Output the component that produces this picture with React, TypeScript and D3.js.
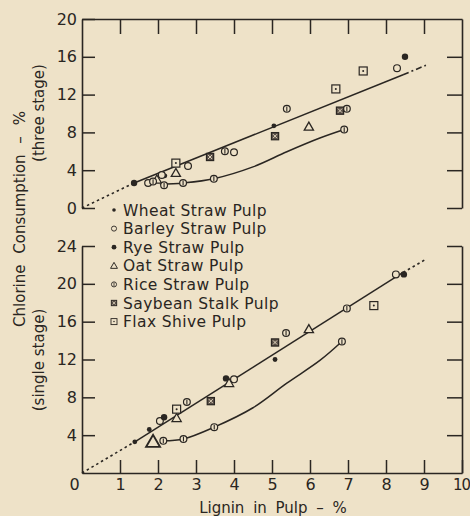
import { useEffect, useRef } from 'react'
import * as d3 from 'd3'

type Pt = [number, number]

// three stage panel (lignin %, chlorine %)
const threeWheat: Pt[] = [[2.18, 3.4], [5.05, 8.7]]
const threeBarley: Pt[] = [[1.74, 2.65], [2.1, 3.5], [2.79, 4.45], [4.0, 5.9], [8.29, 14.8]]
const threeRye: Pt[] = [[1.37, 2.65], [8.5, 16.0]]
const threeOat: Pt[] = [[1.97, 3.0], [2.47, 3.7], [5.97, 8.6]]
const threeRice: Pt[] = [[1.87, 2.8], [3.76, 6.0], [5.39, 10.5], [6.97, 10.5], [2.16, 2.4], [2.66, 2.65], [3.47, 3.1], [6.9, 8.3]]
const threeSoybean: Pt[] = [[3.37, 5.4], [5.08, 7.6], [6.79, 10.3]]
const threeFlax: Pt[] = [[2.47, 4.75], [6.68, 12.6], [7.4, 14.5]]
const threeFit: Pt[] = [[1.37, 2.65], [8.45, 14.1]]
const threeFitStart: Pt[] = [[0, 0], [1.37, 2.65]]
const threeFitEnd: Pt[] = [[8.45, 14.1], [9.05, 15.1]]
const threeLower: Pt[] = [[2.05, 2.5], [2.66, 2.65], [3.47, 3.1], [4.5, 4.35], [5.39, 5.95], [6.26, 7.4], [6.9, 8.3]]

// single stage panel
const singleWheat: Pt[] = [[1.39, 3.3], [1.77, 4.6], [5.08, 12.0]]
const singleBarley: Pt[] = [[2.05, 5.5], [4.0, 9.9], [8.26, 21.0]]
const singleRye: Pt[] = [[2.16, 5.9], [3.79, 10.0], [8.47, 21.0]]
const singleOat: Pt[] = [[1.87, 3.3], [2.49, 5.8], [3.87, 9.5], [5.97, 15.2]]
const singleRice: Pt[] = [[2.76, 7.5], [5.37, 14.8], [6.97, 17.4], [2.14, 3.4], [2.67, 3.6], [3.48, 4.85], [6.84, 13.9]]
const singleSoybean: Pt[] = [[3.39, 7.6], [5.08, 13.8]]
const singleFlax: Pt[] = [[2.49, 6.75], [7.68, 17.7]]
const singleFit: Pt[] = [[1.39, 3.3], [8.45, 21.2]]
const singleFitStart: Pt[] = [[0, 0], [1.39, 3.3]]
const singleFitEnd: Pt[] = [[8.45, 21.2], [9.05, 22.6]]
const singleLower: Pt[] = [[2.14, 3.4], [2.67, 3.6], [3.48, 4.85], [4.5, 6.9], [5.39, 9.5], [6.26, 11.9], [6.84, 13.9]]

const xTicks = [0, 1, 2, 3, 4, 5, 6, 7, 8, 9, 10]
const topTicks = [0, 4, 8, 12, 16, 20]
const bottomTicks = [4, 8, 12, 16, 20, 24]

const legendNames = [
  'Wheat Straw Pulp',
  'Barley Straw Pulp',
  'Rye Straw Pulp',
  'Oat Straw Pulp',
  'Rice Straw Pulp',
  'Saybean Stalk Pulp',
  'Flax Shive Pulp',
]
const kinds = ['wheat', 'barley', 'rye', 'oat', 'rice', 'soybean', 'flax']

const W = 470
const H = 516
const INK = '#2a2622'
const BG = '#eee2c8'
const FONT = '"DejaVu Sans", sans-serif'

type Sel = d3.Selection<SVGGElement, unknown, null, undefined>

function marker(g: Sel, kind: string, cx: number, cy: number, s = 1) {
  const m = g.append('g').attr('transform', `translate(${cx},${cy}) scale(${s})`)
  if (kind === 'wheat') {
    m.append('circle').attr('r', 2.4).attr('fill', INK)
  } else if (kind === 'rye') {
    m.append('circle').attr('r', 3.2).attr('fill', INK)
  } else if (kind === 'barley') {
    m.append('circle').attr('r', 3.4).attr('fill', BG).attr('stroke', INK).attr('stroke-width', 1.2)
  } else if (kind === 'rice') {
    m.append('circle').attr('r', 3.4).attr('fill', BG).attr('stroke', INK).attr('stroke-width', 1.2)
    m.append('line').attr('y1', -2.4).attr('y2', 2.4).attr('stroke', INK).attr('stroke-width', 1.1)
  } else if (kind === 'oat') {
    m.append('path').attr('d', 'M0,-4.6L4.6,3.4L-4.6,3.4Z').attr('fill', BG).attr('stroke', INK).attr('stroke-width', 1.3)
  } else if (kind === 'soybean') {
    m.append('rect').attr('x', -3.6).attr('y', -3.6).attr('width', 7.2).attr('height', 7.2)
      .attr('fill', '#5a5048').attr('stroke', INK).attr('stroke-width', 1.2)
    m.append('path').attr('d', 'M-2,-2L2,2M2,-2L-2,2').attr('stroke', BG).attr('stroke-width', 0.9)
  } else if (kind === 'flax') {
    m.append('rect').attr('x', -4).attr('y', -4).attr('width', 8).attr('height', 8)
      .attr('fill', BG).attr('stroke', INK).attr('stroke-width', 1.2)
    m.append('circle').attr('r', 1).attr('fill', INK)
  }
}

export default function App() {
  const ref = useRef<SVGSVGElement>(null)

  useEffect(() => {
    const svg = ref.current
    if (!svg) return
    const root = d3.select(svg)
    root.selectAll('*').remove()

    const x = d3.scaleLinear().domain([0, 10]).range([82, 462])
    const yTop = d3.scaleLinear().domain([0, 20]).range([208, 19])
    const yBot = d3.scaleLinear().domain([0, 24]).range([473, 246])

    const styleAxis = (sel: Sel) => {
      sel.select('.domain').attr('stroke', INK).attr('stroke-width', 1.6)
      sel.selectAll('line').attr('stroke', INK).attr('stroke-width', 1.5)
      sel.selectAll('text').attr('fill', INK).style('font-family', FONT).style('font-size', '16px')
    }

    const g = root.append('g') as Sel

    // top panel frame
    g.append('g').attr('transform', `translate(${x(0)},0)`)
      .call(d3.axisLeft(yTop).tickValues(topTicks).tickSize(-13).tickSizeOuter(0).tickPadding(5).tickFormat(d3.format('d')))
      .call(styleAxis)
    g.append('g').attr('transform', `translate(0,${yTop(20)})`)
      .call(d3.axisTop(x).tickValues([1, 2, 3, 4, 5, 6, 7, 8, 9]).tickSize(-15).tickSizeOuter(0).tickFormat(() => ''))
      .call(styleAxis)
    g.append('g').attr('transform', `translate(${x(10)},0)`)
      .call(d3.axisRight(yTop).tickValues([0, 4, 8, 12, 16]).tickSize(-15).tickSizeOuter(0).tickFormat(() => ''))
      .call(styleAxis)

    // bottom panel frame
    g.append('g').attr('transform', `translate(${x(0)},0)`)
      .call(d3.axisLeft(yBot).tickValues(bottomTicks).tickSize(-13).tickSizeOuter(0).tickPadding(5).tickFormat(d3.format('d')))
      .call(styleAxis)
    g.append('g').attr('transform', `translate(${x(10)},0)`)
      .call(d3.axisRight(yBot).tickValues(bottomTicks).tickSize(-15).tickSizeOuter(0).tickFormat(() => ''))
      .call(styleAxis)
    const xa = g.append('g').attr('transform', `translate(0,${yBot(0)})`)
      .call(d3.axisBottom(x).tickValues(xTicks).tickSize(-13).tickSizeOuter(0).tickPadding(6).tickFormat(d3.format('d')))
      .call(styleAxis)
    xa.selectAll('.tick').filter(d => d === 0).select('line').remove()
    xa.selectAll('.tick').filter(d => d === 0).select('text').attr('dx', -8)
    xa.selectAll('.tick').filter(d => d === 10).select('text').attr('dx', -1).style('font-size', '15px').style('letter-spacing', '-1px')

    // fitted lines
    const drawLine = (pts: Pt[], y: d3.ScaleLinear<number, number>, dash: string | null, curve: d3.CurveFactory = d3.curveLinear) => {
      const line = d3.line<Pt>().x(d => x(d[0])).y(d => y(d[1])).curve(curve)
      g.append('path').datum(pts).attr('d', line).attr('fill', 'none').attr('stroke', INK)
        .attr('stroke-width', dash ? 1.6 : 1.5).attr('stroke-dasharray', dash)
    }
    drawLine(threeFit, yTop, null)
    drawLine(threeFitStart, yTop, '2.5,3')
    drawLine(threeFitEnd, yTop, '6,3,2,3')
    drawLine(threeLower, yTop, null, d3.curveCatmullRom)
    drawLine(singleFit, yBot, null)
    drawLine(singleFitStart, yBot, '2.5,3')
    drawLine(singleFitEnd, yBot, '2.5,3')
    drawLine(singleLower, yBot, null, d3.curveCatmullRom)

    // points
    const topSets = [threeWheat, threeBarley, threeRye, threeOat, threeRice, threeSoybean, threeFlax]
    const botSets = [singleWheat, singleBarley, singleRye, singleOat, singleRice, singleSoybean, singleFlax]
    topSets.forEach((pts, i) => pts.forEach(p => marker(g, kinds[i], x(p[0]), yTop(p[1]))))
    botSets.forEach((pts, i) => pts.forEach(p => marker(g, kinds[i], x(p[0]), yBot(p[1]), i === 3 && p === singleOat[0] ? 1.5 : 1)))

    // legend
    const lg = g.append('g') as Sel
    legendNames.forEach((name, i) => {
      const cy = 210 + i * 18.6
      marker(lg, kinds[i], 114, cy, 0.75)
      lg.append('text').attr('x', 123).attr('y', cy).attr('dy', '0.36em')
        .attr('fill', INK).style('font-family', FONT).style('font-size', '15.5px').style('letter-spacing', '0.4px').text(name)
    })

    // titles
    g.append('text').attr('transform', 'translate(20,219) rotate(-90)').attr('text-anchor', 'middle').attr('dy', '0.36em')
      .attr('fill', INK).style('font-family', FONT).style('font-size', '15px').style('word-spacing', '6px')
      .text('Chlorine Consumption – %')
    g.append('text').attr('transform', 'translate(39,113) rotate(-90)').attr('text-anchor', 'middle').attr('dy', '0.36em')
      .attr('fill', INK).style('font-family', FONT).style('font-size', '15px').text('(three stage)')
    g.append('text').attr('transform', 'translate(39,360) rotate(-90)').attr('text-anchor', 'middle').attr('dy', '0.36em')
      .attr('fill', INK).style('font-family', FONT).style('font-size', '15px').text('(single stage)')
    g.append('text').attr('x', 273).attr('y', 508).attr('text-anchor', 'middle').attr('dy', '0.36em')
      .attr('fill', INK).style('font-family', FONT).style('font-size', '15px').style('word-spacing', '4px')
      .text('Lignin in Pulp – %')
  }, [])

  return (
    <div style={{ position: 'absolute', left: 0, top: 0, width: W, height: H, background: BG }}>
      <svg ref={ref} width={W} height={H} />
    </div>
  )
}
